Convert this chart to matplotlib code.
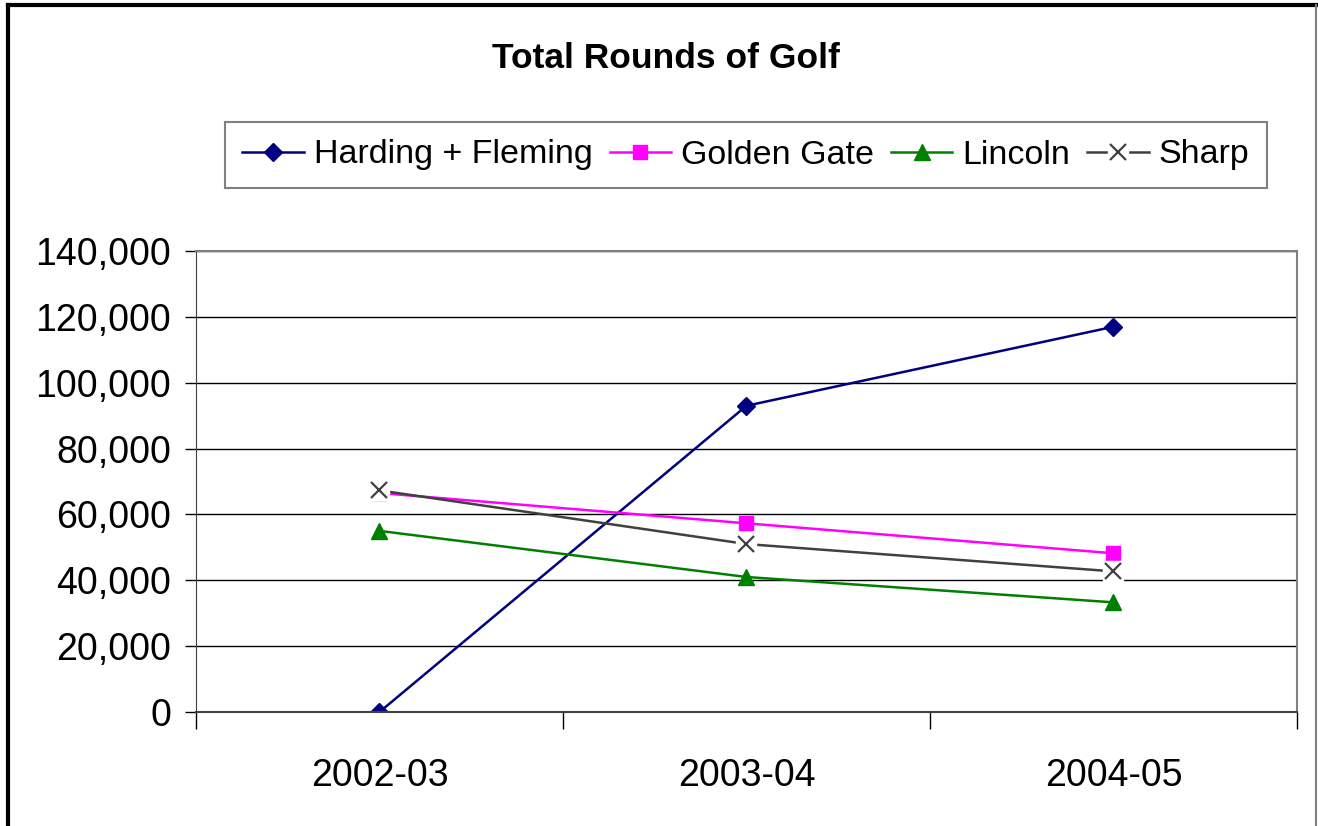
import matplotlib.pyplot as plt
from matplotlib.lines import Line2D
from matplotlib.ticker import FuncFormatter, FixedLocator
from matplotlib.legend_handler import HandlerTuple

plt.rcParams['font.family'] = ['Liberation Sans', 'DejaVu Sans']

# data
years = ['2002-03', '2003-04', '2004-05']
harding = [0, 93000, 117000]
golden_gate = [66500, 57300, 48200]
lincoln = [55000, 41000, 33300]
sharp = [67300, 51000, 42700]

fig = plt.figure(figsize=(13.18, 8.26), dpi=100)
ax = fig.add_axes([196/1318, 114/826, (1297-196)/1318, (712-251)/826])

x = range(len(years))
h1, = ax.plot(x, harding, color='#000080', marker='D', markersize=9, lw=1.8, label='Harding + Fleming')
h2, = ax.plot(x, golden_gate, color='#FF00FF', marker='s', markersize=10, lw=1.8, label='Golden Gate')
h3, = ax.plot(x, lincoln, color='#008000', marker='^', markersize=11, lw=1.8, label='Lincoln')
# excel's x marker sits on a white square
h4a, = ax.plot(x, sharp, color='#404040', marker='s', markersize=14, mfc='white', mec='white', lw=1.8)
h4b, = ax.plot(x, sharp, color='#404040', marker='x', markersize=12, mew=1.6, lw=0)

ax.set_xlim(-0.5, 2.5)
ax.set_ylim(0, 140000)
ax.set_yticks(range(0, 140001, 20000))
ax.yaxis.set_major_formatter(FuncFormatter(lambda v, p: f'{int(v):,}'))
ax.yaxis.grid(True, color='black', lw=1)
ax.set_axisbelow(True)

# category boundaries carry the tick marks, labels sit in the middle
ax.xaxis.set_major_locator(FixedLocator([-0.5, 0.5, 1.5, 2.5]))
ax.xaxis.set_major_formatter(FuncFormatter(lambda v, p: ''))
ax.xaxis.set_minor_locator(FixedLocator(list(x)))
ax.set_xticklabels(years, minor=True)
ax.tick_params(axis='x', which='major', direction='out', length=12, width=1, color='black')
ax.tick_params(axis='x', which='minor', length=0, pad=33, labelsize=27)
ax.tick_params(axis='y', direction='out', length=8, width=1, labelsize=27, pad=10)

for s in ['top', 'right']:
    ax.spines[s].set_color('#808080')
    ax.spines[s].set_linewidth(1.5)
ax.spines['left'].set_color('#404040')
ax.spines['bottom'].set_color('#404040')
ax.spines['bottom'].set_linewidth(1.5)

fig.text(666/1318, 1 - 58/826, 'Total Rounds of Golf', ha='center', va='center',
         fontsize=25.5, fontweight='bold')

leg = fig.legend([h1, h2, h3, (h4a, h4b)], ['Harding + Fleming', 'Golden Gate', 'Lincoln', 'Sharp'],
                 handler_map={tuple: HandlerTuple(ndivide=1, pad=0)},
                 loc='center', bbox_to_anchor=(746/1318, 1 - 155/826), ncol=4,
                 fontsize=24.5, frameon=True, fancybox=False, edgecolor='#606060',
                 handlelength=1.8, handletextpad=0.3, columnspacing=0.5,
                 borderpad=0.5)
leg.get_frame().set_linewidth(1.5)

# outer chart border
fig.add_artist(Line2D([8/1318, 8/1318], [0, 1 - 5/826], color='black', lw=3))
fig.add_artist(Line2D([8/1318, 1316/1318], [1 - 5/826, 1 - 5/826], color='black', lw=3))
fig.add_artist(Line2D([1316/1318, 1316/1318], [0, 1 - 5/826], color='#808080', lw=1.5))

fig.savefig('out.png', dpi=100)
